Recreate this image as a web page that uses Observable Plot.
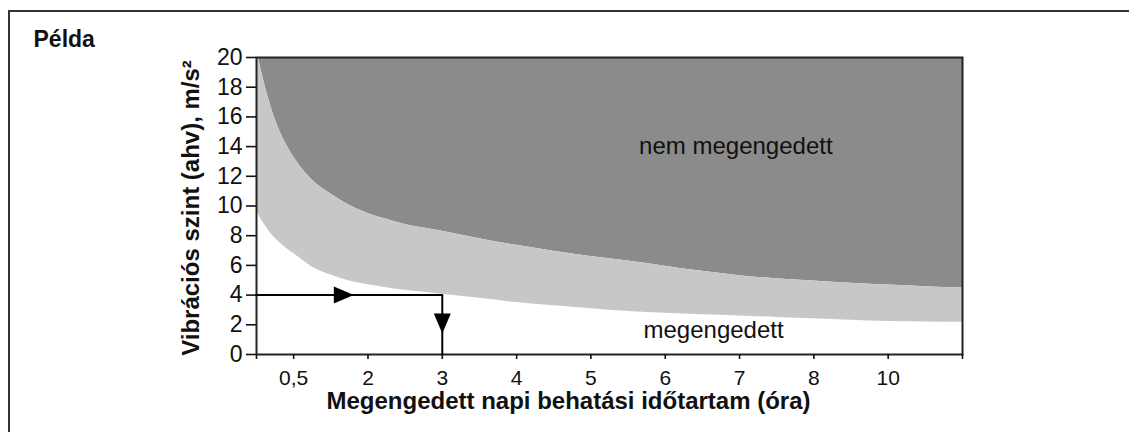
<!DOCTYPE html>
<html>
<head>
<meta charset="utf-8">
<script src="https://cdn.jsdelivr.net/npm/d3@7"></script>
<script src="https://cdn.jsdelivr.net/npm/@observablehq/plot@0.6"></script>
<style>
  html, body { margin: 0; padding: 0; background: #fff; overflow: hidden; }
  #wrap { position: relative; width: 1129px; height: 432px; }
  #box { position: absolute; left: 8px; top: 10px; width: 1300px; height: 600px;
         border-top: 2px solid #333; border-left: 2px solid #333; }
  #chart { position: absolute; left: 0; top: 0; }
</style>
</head>
<body>
<div id="wrap"><div id="box"></div><div id="chart"></div></div>
<script>
// Tick labels of the x axis (placed at evenly spaced positions 0..8)
const hourLabels = ["0,5", "2", "3", "4", "5", "6", "7", "8", "10"];
const hourPositions = [0, 1, 2, 3, 4, 5, 6, 7, 8];
const yTicks = [0, 2, 4, 6, 8, 10, 12, 14, 16, 18, 20];

// Sample positions along the x axis
const xPos = [-0.5, -0.4, -0.3, -0.2, -0.1, 0, 0.25, 0.5, 0.75, 1, 1.25, 1.5, 2, 2.5, 3, 3.5, 4, 4.5, 5, 5.5, 6, 6.5, 7, 7.5, 8, 8.5, 9];
// Lower boundary of the light grey band (action value)
const lowerLimit = [9.7, 8.8, 8.1, 7.6, 7.15, 6.8, 5.9, 5.35, 4.95, 4.7, 4.5, 4.32, 4.05, 3.78, 3.5, 3.28, 3.08, 2.9, 2.78, 2.68, 2.6, 2.5, 2.4, 2.3, 2.22, 2.19, 2.17];
// Upper boundary of the light grey band (limit value)
const upperLimit = [20.6, 18.4, 16.6, 15.2, 14.15, 13.3, 11.75, 10.8, 10.05, 9.5, 9.1, 8.75, 8.3, 7.8, 7.35, 6.95, 6.6, 6.3, 5.95, 5.6, 5.3, 5.1, 4.95, 4.8, 4.68, 4.57, 4.48];

// Example: 4 m/s² -> 3 hours (position 2)
const exampleLevel = 4;
const examplePos = 2;
const arrowRight = {u: 0.63, v: 4};
const arrowDown = {u: 2, v: 2.31};

// Region labels
const regionLabels = [
  {text: "nem megengedett", u: 5.95, v: 14.0},
  {text: "megengedett", u: 5.65, v: 1.64}
];

const yMax = yTicks[yTicks.length - 1];
const rows = xPos.map((u, i) => ({u, lower: lowerLimit[i], upper: upperLimit[i], top: yMax}));
const path = [
  {u: -0.5, v: exampleLevel},
  {u: examplePos, v: exampleLevel},
  {u: examplePos, v: 0}
];

function triSymbol(angle) {
  return {
    draw(ctx, size) {
      const r = Math.sqrt(size / Math.PI);
      const L = 2.5 * r, W = 2.125 * r;
      const pts = [[2 * L / 3, 0], [-L / 3, -W / 2], [-L / 3, W / 2]];
      const c = Math.cos(angle), s = Math.sin(angle);
      pts.forEach(([x, y], k) => {
        const X = x * c - y * s, Y = x * s + y * c;
        if (k === 0) ctx.moveTo(X, Y); else ctx.lineTo(X, Y);
      });
      ctx.closePath();
    }
  };
}

const font = "'Liberation Sans', Arial, sans-serif";

const chart = Plot.plot({
  width: 1129,
  height: 432,
  marginLeft: 256,
  marginRight: 167,
  marginTop: 57,
  marginBottom: 78,
  x: {domain: [-0.5, 9]},
  y: {domain: [0, yMax]},
  style: {fontFamily: font, color: "#111", background: "transparent"},
  marks: [
    Plot.areaY(rows, {x: "u", y1: "upper", y2: "top", fill: "#8b8b8b", curve: "monotone-x", clip: true}),
    Plot.areaY(rows, {x: "u", y1: "lower", y2: "upper", fill: "#c7c7c7", curve: "monotone-x", clip: true}),
    Plot.frame({stroke: "#222", strokeWidth: 2}),
    Plot.axisY({ticks: yTicks, tickSize: 10, tickPadding: 4, fontSize: 23, strokeWidth: 1.6, label: null}),
    Plot.axisX({ticks: hourPositions, tickFormat: (d) => hourLabels[hourPositions.indexOf(d)], tickSize: 5, tickPadding: 11, fontSize: 21, strokeWidth: 1.6, label: null}),
    Plot.axisX({ticks: [-0.5, 9], tickFormat: () => "", tickSize: 5, strokeWidth: 1.6, label: null}),
    Plot.line(path, {x: "u", y: "v", stroke: "#000", strokeWidth: 2}),
    Plot.dot([arrowRight], {x: "u", y: "v", r: 8, symbol: triSymbol(0), fill: "#000", stroke: "none"}),
    Plot.dot([arrowDown], {x: "u", y: "v", r: 8, symbol: triSymbol(Math.PI / 2), fill: "#000", stroke: "none"}),
    Plot.text(regionLabels, {x: "u", y: "v", text: "text", fontSize: 24, fill: "#111"}),
    Plot.text(["Vibrációs szint (ahv), m/s²"], {frameAnchor: "left", textAnchor: "middle", lineAnchor: "middle", rotate: -90, dx: -65, dy: 2, fontSize: 24, fontWeight: "bold", fill: "#111"}),
    Plot.text(["Megengedett napi behatási időtartam (óra)"], {frameAnchor: "bottom", textAnchor: "middle", lineAnchor: "middle", dx: -41, dy: 47, fontSize: 24, fontWeight: "bold", fill: "#111"}),
    Plot.text(["Példa"], {frameAnchor: "top-left", textAnchor: "start", lineAnchor: "middle", dx: -223, dy: -18, fontSize: 23, fontWeight: "bold", fill: "#111"})
  ]
});
document.getElementById("chart").appendChild(chart);
</script>
</body>
</html>
